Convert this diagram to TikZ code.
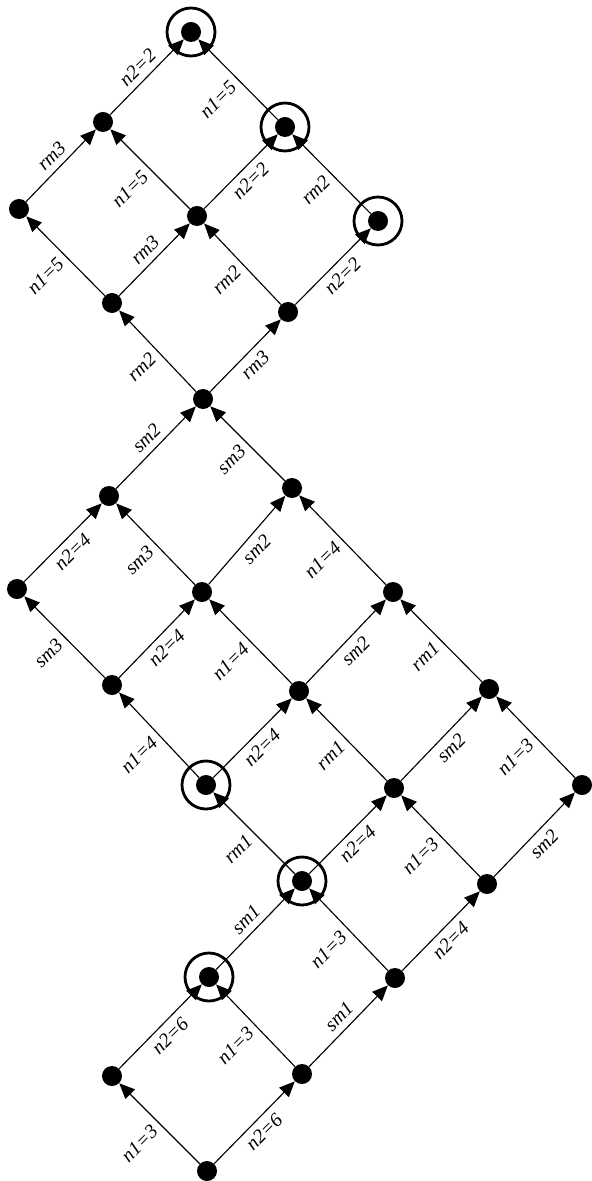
\documentclass[tikz,border=0pt]{standalone}
\usepackage{fontspec}
\setmainfont{Liberation Serif}
\usetikzlibrary{arrows.meta}

\begin{document}
\begin{tikzpicture}[
  x=.025cm,y=-.025cm,
  line cap=butt,line join=miter,
  font=\fontsize{14}{16}\selectfont\itshape,
  state/.style={circle,fill=black,minimum size=.5cm,inner sep=0pt},
  ring/.style={draw=black,line width=2pt},
  arrow/.style={-{Triangle[length=11pt,width=9.5pt]},line width=.8pt},
  lbl/.style={rotate=45,inner sep=4.5pt}
]
\useasboundingbox (0,0) rectangle (591,1181);

\foreach \n/\x/\y in {q00/207/1171,q10/112/1076,q01/302/1074,q11/209/977,
  q02/395/978,q12/302/881,q03/487/884,q22/206/785,q13/394/788,q04/582/785,
  q32/112/685,q23/299/691,q14/489/689,q42/17/589,q33/202/592,q24/393/592,
  q43/109/496,q34/292/488,q44/203/399,q54/112/303,q45/288/312,q64/19/209,
  q55/197/216,q46/378/221,q65/103/122,q56/285/127,q66/191/32}
  \node[state] (\n) at (\x,\y) {};

\draw[arrow] (q00) -- node[lbl,left] {n1=3} (q10);
\draw[arrow] (q00) -- node[lbl,below] {n2=6} (q01);
\draw[arrow] (q10) -- node[lbl,below] {n2=6} (q11);
\draw[arrow] (q01) -- node[lbl,left] {n1=3} (q11);
\draw[arrow] (q01) -- node[lbl,above] {sm1} (q02);
\draw[arrow] (q11) -- node[lbl,above] {sm1} (q12);
\draw[arrow] (q02) -- node[lbl,left] {n1=3} (q12);
\draw[arrow] (q02) -- node[lbl,below] {n2=4} (q03);
\draw[arrow] (q12) -- node[lbl,left] {rm1} (q22);
\draw[arrow] (q12) -- node[lbl,below] {n2=4} (q13);
\draw[arrow] (q03) -- node[lbl,left] {n1=3} (q13);
\draw[arrow] (q03) -- node[lbl,below] {sm2} (q04);
\draw[arrow] (q22) -- node[lbl,left] {n1=4} (q32);
\draw[arrow] (q22) -- node[lbl,below] {n2=4} (q23);
\draw[arrow] (q13) -- node[lbl,left] {rm1} (q23);
\draw[arrow] (q13) -- node[lbl,below] {sm2} (q14);
\draw[arrow] (q04) -- node[lbl,left] {n1=3} (q14);
\draw[arrow] (q32) -- node[lbl,left] {sm3} (q42);
\draw[arrow] (q32) -- node[lbl,below] {n2=4} (q33);
\draw[arrow] (q23) -- node[lbl,left] {n1=4} (q33);
\draw[arrow] (q23) -- node[lbl,below] {sm2} (q24);
\draw[arrow] (q14) -- node[lbl,left] {rm1} (q24);
\draw[arrow] (q42) -- node[lbl,below] {n2=4} (q43);
\draw[arrow] (q33) -- node[lbl,left] {sm3} (q43);
\draw[arrow] (q33) -- node[lbl,below] {sm2} (q34);
\draw[arrow] (q24) -- node[lbl,left] {n1=4} (q34);
\draw[arrow] (q43) -- node[lbl,above] {sm2} (q44);
\draw[arrow] (q34) -- node[lbl,left] {sm3} (q44);
\draw[arrow] (q44) -- node[lbl,left] {rm2} (q54);
\draw[arrow] (q44) -- node[lbl,below] {rm3} (q45);
\draw[arrow] (q54) -- node[lbl,left] {n1=5} (q64);
\draw[arrow] (q54) -- node[lbl,above] {rm3} (q55);
\draw[arrow] (q45) -- node[lbl,left] {rm2} (q55);
\draw[arrow] (q45) -- node[lbl,below] {n2=2} (q46);
\draw[arrow] (q64) -- node[lbl,above] {rm3} (q65);
\draw[arrow] (q55) -- node[lbl,left] {n1=5} (q65);
\draw[arrow] (q55) -- node[lbl,below] {n2=2} (q56);
\draw[arrow] (q46) -- node[lbl,left] {rm2} (q56);
\draw[arrow] (q65) -- node[lbl,above] {n2=2} (q66);
\draw[arrow] (q56) -- node[lbl,left] {n1=5} (q66);

\foreach \n in {q11,q12,q22,q46,q56,q66}
  \draw[ring] (\n) circle[radius=.6cm];
\end{tikzpicture}
\end{document}
